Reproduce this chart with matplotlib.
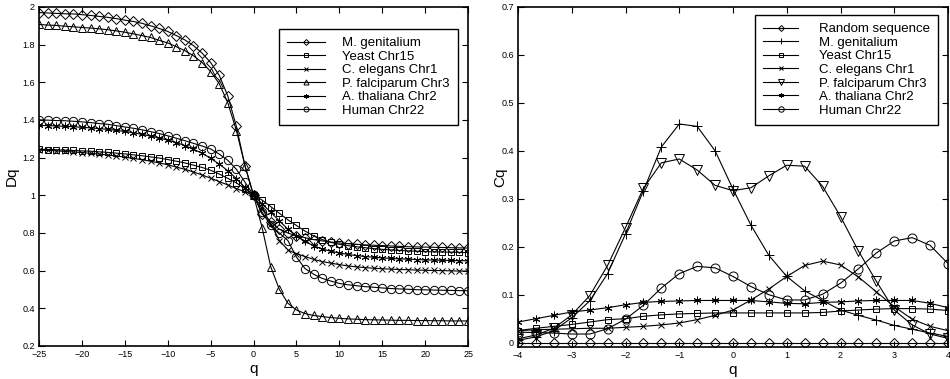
import numpy as np
import matplotlib
matplotlib.use("Agg")
import matplotlib.pyplot as plt
from matplotlib.ticker import FuncFormatter

plt.rcParams['font.family'] = ['Liberation Sans', 'DejaVu Sans']

# ---- left panel: Dq versus q ----
q_left = np.arange(-25, 26)

mgen_D = [1.970, 1.968, 1.966, 1.964, 1.963, 1.959, 1.955, 1.950, 1.945, 1.938,
          1.930, 1.923, 1.913, 1.900, 1.886, 1.870, 1.848, 1.825, 1.795, 1.755,
          1.705, 1.637, 1.527, 1.366, 1.157, 1.000,
          0.900, 0.860, 0.820, 0.800, 0.785, 0.775, 0.765, 0.758, 0.752, 0.747,
          0.743, 0.740, 0.737, 0.735, 0.733, 0.731, 0.729, 0.727, 0.726, 0.725,
          0.724, 0.723, 0.722, 0.721, 0.720]
yeast_D = [1.245, 1.243, 1.242, 1.240, 1.238, 1.236, 1.234, 1.231, 1.228, 1.224,
           1.220, 1.215, 1.210, 1.204, 1.198, 1.190, 1.181, 1.172, 1.160, 1.148,
           1.133, 1.113, 1.090, 1.066, 1.035, 1.000,
           0.975, 0.940, 0.905, 0.870, 0.840, 0.810, 0.785, 0.765, 0.750, 0.740,
           0.733, 0.727, 0.722, 0.717, 0.713, 0.710, 0.707, 0.705, 0.703, 0.701,
           0.700, 0.699, 0.698, 0.697, 0.696]
celeg_D = [1.240, 1.238, 1.236, 1.233, 1.230, 1.227, 1.223, 1.219, 1.214, 1.209,
           1.203, 1.196, 1.189, 1.181, 1.172, 1.162, 1.150, 1.138, 1.124, 1.108,
           1.091, 1.073, 1.055, 1.036, 1.018, 1.000,
           0.930, 0.850, 0.760, 0.710, 0.690, 0.675, 0.660, 0.648, 0.640, 0.632,
           0.625, 0.620, 0.616, 0.613, 0.610, 0.608, 0.606, 0.605, 0.603, 0.602,
           0.601, 0.600, 0.599, 0.598, 0.598]
pfal_D = [1.907, 1.904, 1.902, 1.898, 1.895, 1.891, 1.888, 1.884, 1.879, 1.873,
          1.866, 1.857, 1.848, 1.838, 1.823, 1.809, 1.789, 1.768, 1.741, 1.705,
          1.657, 1.593, 1.491, 1.344, 1.157, 1.000,
          0.828, 0.621, 0.501, 0.427, 0.391, 0.372, 0.362, 0.356, 0.351, 0.347,
          0.344, 0.342, 0.340, 0.339, 0.338, 0.337, 0.336, 0.336, 0.335, 0.335,
          0.334, 0.334, 0.333, 0.333, 0.333]
athal_D = [1.371, 1.370, 1.368, 1.366, 1.364, 1.361, 1.358, 1.354, 1.350, 1.345,
           1.339, 1.332, 1.324, 1.315, 1.305, 1.293, 1.280, 1.264, 1.244, 1.224,
           1.196, 1.166, 1.130, 1.089, 1.041, 1.000,
           0.955, 0.910, 0.865, 0.820, 0.785, 0.755, 0.732, 0.715, 0.703, 0.694,
           0.686, 0.680, 0.675, 0.671, 0.668, 0.665, 0.663, 0.661, 0.659, 0.657,
           0.656, 0.655, 0.654, 0.653, 0.652]
human_D = [1.401, 1.399, 1.397, 1.396, 1.393, 1.390, 1.386, 1.381, 1.377, 1.370,
           1.363, 1.356, 1.348, 1.338, 1.328, 1.316, 1.303, 1.290, 1.276, 1.262,
           1.246, 1.219, 1.186, 1.138, 1.070, 1.000,
           0.910, 0.840, 0.800, 0.760, 0.672, 0.611, 0.581, 0.559, 0.545, 0.532,
           0.525, 0.520, 0.515, 0.512, 0.508, 0.505, 0.503, 0.501, 0.499, 0.498,
           0.497, 0.496, 0.495, 0.494, 0.493]

left_labels = ["M. genitalium", "Yeast Chr15", "C. elegans Chr1",
               "P. falciparum Chr3", "A. thaliana Chr2", "Human Chr22"]

# ---- right panel: Cq versus q ----
q_right = np.linspace(-4, 4, 25)

random_C = [0.0] * 25
mgen_C = [0.005, 0.012, 0.025, 0.052, 0.087, 0.144, 0.227, 0.317, 0.408, 0.456,
          0.451, 0.400, 0.320, 0.245, 0.182, 0.138, 0.108, 0.088, 0.068, 0.057,
          0.047, 0.036, 0.028, 0.020, 0.013]
yeast_C = [0.025, 0.030, 0.034, 0.038, 0.043, 0.048, 0.050, 0.055, 0.058, 0.060,
           0.061, 0.062, 0.062, 0.062, 0.062, 0.062, 0.062, 0.063, 0.066, 0.068,
           0.070, 0.071, 0.071, 0.070, 0.067]
celeg_C = [0.025, 0.027, 0.028, 0.029, 0.030, 0.030, 0.032, 0.034, 0.037, 0.041,
           0.048, 0.057, 0.068, 0.089, 0.112, 0.138, 0.161, 0.170, 0.162, 0.137,
           0.106, 0.075, 0.049, 0.034, 0.025]
pfal_C = [0.008, 0.016, 0.030, 0.058, 0.098, 0.161, 0.240, 0.322, 0.375, 0.383,
          0.360, 0.328, 0.317, 0.323, 0.348, 0.370, 0.368, 0.326, 0.263, 0.191,
          0.128, 0.068, 0.037, 0.018, 0.009]
athal_C = [0.043, 0.050, 0.057, 0.064, 0.068, 0.073, 0.079, 0.084, 0.086, 0.087,
           0.088, 0.088, 0.088, 0.088, 0.085, 0.082, 0.081, 0.084, 0.085, 0.087,
           0.088, 0.088, 0.088, 0.082, 0.073]
human_C = [0.022, 0.021, 0.020, 0.018, 0.018, 0.029, 0.049, 0.078, 0.114, 0.144,
           0.159, 0.156, 0.138, 0.117, 0.100, 0.089, 0.089, 0.101, 0.124, 0.154,
           0.187, 0.212, 0.219, 0.203, 0.165]

right_labels = ["Random sequence", "M. genitalium", "Yeast Chr15", "C. elegans Chr1",
                "P. falciparum Chr3", "A. thaliana Chr2", "Human Chr22"]

asterisk = (6, 2, 0)


def fmt(v, pos):
    return ("%g" % round(v, 6)).replace("-", "\u2212")


def style_axes(ax):
    ax.tick_params(direction='in', top=True, right=True, length=4, width=0.8,
                   labelsize=6.5, pad=3)
    for s in ax.spines.values():
        s.set_linewidth(1.2)
    ax.xaxis.set_major_formatter(FuncFormatter(fmt))
    ax.yaxis.set_major_formatter(FuncFormatter(fmt))


def draw(ax, x, y, marker, label, ms=5):
    ax.plot(x, y, color='black', linewidth=0.8, marker=marker, markersize=ms,
            markerfacecolor='none', markeredgecolor='black', markeredgewidth=0.7,
            label=label)


fig = plt.figure(figsize=(9.5, 3.79), dpi=100)
ax1 = fig.add_axes([0.0411, 0.0871, 0.4516, 0.8945])
ax2 = fig.add_axes([0.5453, 0.0845, 0.4526, 0.8971])

draw(ax1, q_left, mgen_D, 'D', left_labels[0], 5)
draw(ax1, q_left, yeast_D, 's', left_labels[1], 5)
draw(ax1, q_left, celeg_D, 'x', left_labels[2], 4.5)
draw(ax1, q_left, pfal_D, '^', left_labels[3], 6)
draw(ax1, q_left, athal_D, asterisk, left_labels[4], 5.5)
draw(ax1, q_left, human_D, 'o', left_labels[5], 6)

ax1.set_xlim(-25, 25)
ax1.set_ylim(0.2, 2)
ax1.set_xticks(np.arange(-25, 26, 5))
ax1.set_yticks(np.arange(0.2, 2.01, 0.2))
style_axes(ax1)
ax1.set_xlabel('q', fontsize=11, labelpad=2)
ax1.set_ylabel('Dq', fontsize=11)
ax1.yaxis.set_label_coords(-0.047, 0.5)
leg1 = ax1.legend(loc='upper right', bbox_to_anchor=(0.976, 0.935), fontsize=9.5,
                  handlelength=2.9, handletextpad=1.3, borderpad=0.6,
                  labelspacing=0.1, markerscale=0.6, fancybox=False,
                  edgecolor='black', framealpha=1, borderaxespad=0)
leg1.get_frame().set_linewidth(1.0)

draw(ax2, q_right, random_C, 'D', right_labels[0], 5)
draw(ax2, q_right, mgen_C, '+', right_labels[1], 6.5)
draw(ax2, q_right, yeast_C, 's', right_labels[2], 5)
draw(ax2, q_right, celeg_C, 'x', right_labels[3], 4.5)
draw(ax2, q_right, pfal_C, 'v', right_labels[4], 6.5)
draw(ax2, q_right, athal_C, asterisk, right_labels[5], 5.5)
draw(ax2, q_right, human_C, 'o', right_labels[6], 6.5)

ax2.set_xlim(-4, 4)
ax2.set_ylim(-0.009, 0.7)
ax2.set_xticks(np.arange(-4, 5, 1))
ax2.set_yticks(np.arange(0, 0.71, 0.1))
style_axes(ax2)
ax2.set_xlabel('q', fontsize=11, labelpad=2)
ax2.set_ylabel('Cq', fontsize=11)
ax2.yaxis.set_label_coords(-0.026, 0.5)
leg2 = ax2.legend(loc='upper right', bbox_to_anchor=(0.977, 0.976), fontsize=9.5,
                  handlelength=2.65, handletextpad=1.6, borderpad=0.6,
                  labelspacing=0.1, markerscale=0.6, fancybox=False,
                  edgecolor='black', framealpha=1, borderaxespad=0)
leg2.get_frame().set_linewidth(1.0)

fig.savefig('out.png', dpi=100)
